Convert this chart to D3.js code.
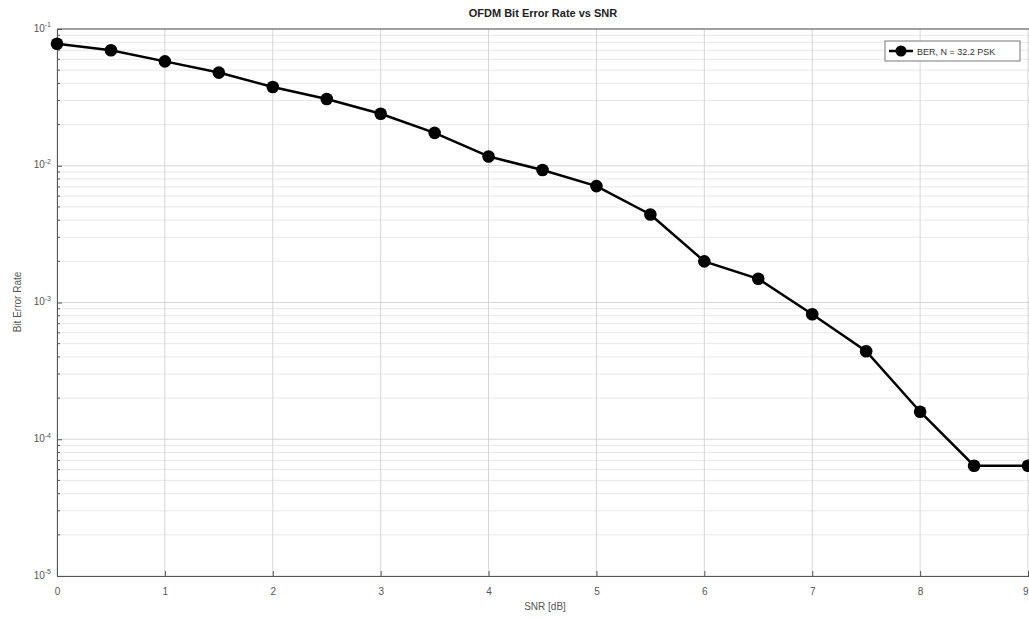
<!DOCTYPE html>
<html><head><meta charset="utf-8">
<script src="https://cdn.jsdelivr.net/npm/d3@7"></script>
<style>body{margin:0;background:#fff;} svg{display:block;font-family:"Liberation Sans",Arial,sans-serif;}</style>
</head><body>
<svg id="c" width="1029" height="619"></svg>
<script>
const snr = [0,0.5,1,1.5,2,2.5,3,3.5,4,4.5,5,5.5,6,6.5,7,7.5,8,8.5,9];
const ber = [0.078,0.070,0.058,0.048,0.0377,0.0308,0.024,0.0174,0.0117,0.0093,0.0071,0.0044,0.0020,0.00149,0.00082,0.00044,0.000159,0.000064,0.000064];
const xTicks = [0,1,2,3,4,5,6,7,8,9];
const yExps = [-1,-2,-3,-4,-5];
const title = "OFDM Bit Error Rate vs SNR";
const xLabel = "SNR [dB]";
const yLabel = "Bit Error Rate";
const legendLabel = "BER, N = 32.2 PSK";

const svg = d3.select("#c");
const L=57, R=1028, T=29, B=576;
const x = d3.scaleLinear().domain([0,9]).range([L,R]);
const y = d3.scaleLog().domain([1e-5,1e-1]).range([B,T]);

// minor grid
const minors=[];
for(let e=-5;e<-1;e++) for(let m=2;m<=9;m++) minors.push(m*Math.pow(10,e));
svg.append("g").selectAll("line").data(minors).join("line")
  .attr("x1",L).attr("x2",1029).attr("y1",d=>y(d)).attr("y2",d=>y(d))
  .attr("stroke","#e8e8e8").attr("stroke-width",1);
// major grid
svg.append("g").selectAll("line").data(yExps.map(e=>Math.pow(10,e))).join("line")
  .attr("x1",L).attr("x2",1029).attr("y1",d=>y(d)).attr("y2",d=>y(d))
  .attr("stroke","#d6d6d6").attr("stroke-width",1);
svg.append("g").selectAll("line").data(xTicks).join("line")
  .attr("x1",d=>x(d)).attr("x2",d=>x(d)).attr("y1",T).attr("y2",B)
  .attr("stroke","#d6d6d6").attr("stroke-width",1);

// axes
const xAxis = d3.axisBottom(x).tickValues(xTicks).tickSize(-5).tickPadding(12).tickFormat(d3.format("d"));
const gx = svg.append("g").attr("transform",`translate(0,${B})`).call(xAxis);
gx.select(".domain").attr("stroke","#555");
gx.selectAll(".tick line").attr("stroke","#555");
gx.selectAll("text").attr("fill","#555").attr("font-size",10)
  .attr("text-anchor",d=>d===9?"end":"middle");
svg.append("line").attr("x1",R).attr("x2",1029).attr("y1",B+0.5).attr("y2",B+0.5).attr("stroke","#555");

const yAxis = d3.axisLeft(y).tickValues(yExps.map(e=>Math.pow(10,e))).tickSize(-5).tickPadding(6).tickFormat("");
const gy = svg.append("g").attr("transform",`translate(${L},0)`).call(yAxis);
gy.select(".domain").attr("stroke","#555");
gy.selectAll(".tick line").attr("stroke","#555");
gy.append("g").selectAll("line").data(minors).join("line")
  .attr("x1",0).attr("x2",3).attr("y1",d=>y(d)).attr("y2",d=>y(d)).attr("stroke","#555");
const lab = gy.selectAll(".tick").append("text").attr("x",-6).attr("dy","0.2em")
  .attr("text-anchor","end").attr("fill","#555").attr("font-size",10);
lab.append("tspan").text("10");
lab.append("tspan").attr("dy","-0.6em").attr("font-size",7).text(d=>Math.round(Math.log10(d)));
// top border
svg.append("line").attr("x1",L).attr("x2",1029).attr("y1",T).attr("y2",T).attr("stroke","#555");

// line
const line = d3.line().x((d,i)=>x(snr[i])).y(d=>y(d));
svg.append("path").datum(ber).attr("d",line).attr("fill","none").attr("stroke","#000").attr("stroke-width",2.5);
svg.append("g").selectAll("circle").data(ber).join("circle")
  .attr("cx",(d,i)=>x(snr[i])).attr("cy",d=>y(d)).attr("r",6.3).attr("fill","#000");

// title and labels
svg.append("text").attr("x",543).attr("y",17).attr("text-anchor","middle")
  .attr("font-weight","bold").attr("font-size",11).attr("fill","#222").text(title);
svg.append("text").attr("x",545).attr("y",610).attr("text-anchor","middle")
  .attr("font-size",10).attr("fill","#555").text(xLabel);
svg.append("text").attr("transform","translate(21,302) rotate(-90)").attr("text-anchor","middle")
  .attr("font-size",10).attr("fill","#555").text(yLabel);

// legend
const lg = svg.append("g");
lg.append("rect").attr("x",885).attr("y",41).attr("width",135).attr("height",20)
  .attr("fill","#fff").attr("stroke","#777").attr("stroke-width",1);
lg.append("line").attr("x1",889).attr("x2",913).attr("y1",51).attr("y2",51).attr("stroke","#000").attr("stroke-width",2.5);
lg.append("circle").attr("cx",901).attr("cy",51).attr("r",5.5).attr("fill","#000");
lg.append("text").attr("x",917).attr("y",54.5).attr("font-size",9).attr("fill","#333").text(legendLabel);
</script>
</body></html>
